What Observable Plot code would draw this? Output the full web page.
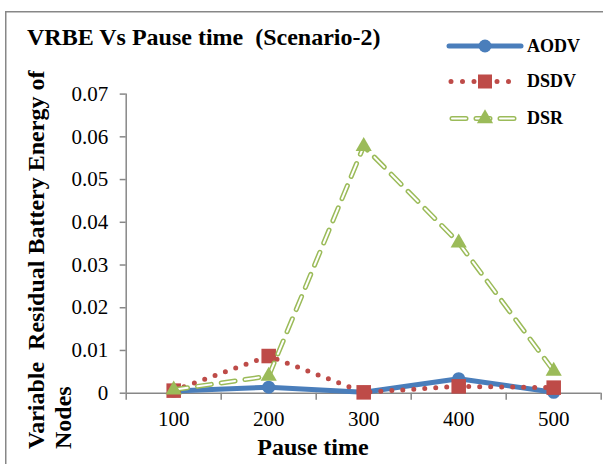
<!DOCTYPE html>
<html>
<head>
<meta charset="utf-8">
<script src="https://cdn.jsdelivr.net/npm/d3@7"></script>
<script src="https://cdn.jsdelivr.net/npm/@observablehq/plot@0.6"></script>
<style>
  html, body { margin: 0; padding: 0; background: #fff; overflow: hidden; }
  #chart { position: relative; width: 603px; height: 464px; }
</style>
</head>
<body>
<div id="chart"></div>
<script>
// ---- data ----
const categories = [100, 200, 300, 400, 500];
const aodv = [0.0005, 0.0014, 0.0002, 0.0034, 0.0002];
const dsdv = [0.0006, 0.0087, 0.0002, 0.0016, 0.0013];
const dsr  = [0.0008, 0.0040, 0.0578, 0.0352, 0.0052];
const yTicks = [0, 0.01, 0.02, 0.03, 0.04, 0.05, 0.06, 0.07];
const seriesNames = ["AODV", "DSDV", "DSR"];
const titleText = "VRBE Vs Pause time  (Scenario-2)";
const xTitle = "Pause time";
const yTitleLines = ["Variable  Residual Battery Energy of", "Nodes"];

// ---- styles ----
const blue = "#4a7ebb", red = "#be4b48", green = "#9bbb59", axisColor = "#878787";
const serif = "'Liberation Serif', 'Times New Roman', serif";

const step = categories[1] - categories[0];
const xDomain = [categories[0] - step / 2, categories[categories.length - 1] + step / 2];
const boundaries = d3.range(xDomain[0], xDomain[1] + 1, step);

const rows = (vals) => categories.map((c, i) => ({x: c, y: vals[i]}));
const A = rows(aodv), D = rows(dsdv), S = rows(dsr);

const plot = Plot.plot({
  width: 603,
  height: 464,
  marginLeft: 125.7,
  marginRight: 2.3,
  marginTop: 93.6,
  marginBottom: 71.3,
  style: {fontFamily: serif, fontSize: "21px", color: "black", background: "transparent", overflow: "visible"},
  x: {type: "linear", domain: xDomain},
  y: {domain: [yTicks[0], yTicks[yTicks.length - 1]]},
  marks: [
    Plot.axisY({ticks: yTicks, tickFormat: d => d === 0 ? "0" : d.toFixed(2), tickSize: 6, tickPadding: 12,
                fontSize: 21, stroke: axisColor, strokeWidth: 1.5, label: null}),
    Plot.axisX({ticks: boundaries, tickFormat: () => "", tickSize: 7, stroke: axisColor, strokeWidth: 1.5, label: null}),
    Plot.axisX({ticks: categories, tickFormat: d => String(d), tickSize: 0, tickPadding: 18, fontSize: 21, label: null}),
    Plot.ruleX([xDomain[0]], {stroke: axisColor, strokeWidth: 1.5}),
    Plot.ruleY([0], {stroke: axisColor, strokeWidth: 1.5}),
    // AODV
    Plot.line(A, {x: "x", y: "y", stroke: blue, strokeWidth: 5, strokeLinejoin: "round"}),
    Plot.dot(A, {x: "x", y: "y", r: 6.5, fill: blue, symbol: "circle"}),
    // DSDV
    Plot.line(D, {x: "x", y: "y", stroke: red, strokeWidth: 5, strokeDasharray: "0 11", strokeLinecap: "round"}),
    Plot.dot(D, {x: "x", y: "y", r: 8.2, fill: red, symbol: "square"}),
    // DSR
    Plot.line(S, {x: "x", y: "y", stroke: green, strokeWidth: 5, strokeDasharray: "14 10", strokeLinecap: "round"}),
    Plot.line(S, {x: "x", y: "y", stroke: "white", strokeWidth: 2, strokeDasharray: "14 10", strokeLinecap: "round"}),
    Plot.dot(S, {x: "x", y: "y", r: 6, fill: green, symbol: "triangle"})
  ]
});

document.getElementById("chart").appendChild(plot);
const svg = d3.select(plot);

// frame (left and top border of chart area)
svg.insert("path", ":first-child")
  .attr("d", "M5.75,470V11.75H610")
  .attr("fill", "none").attr("stroke", axisColor).attr("stroke-width", 1.5);

const txt = (sel) => sel.attr("font-family", serif).attr("font-weight", "bold").attr("fill", "black")
  .attr("text-anchor", "start").style("white-space", "pre");

// title
txt(svg.append("text")).attr("x", 27).attr("y", 45).attr("font-size", 24).text(titleText);

// x axis title
txt(svg.append("text")).attr("x", 313).attr("y", 455).attr("text-anchor", "middle").attr("font-size", 24).text(xTitle);

// y axis title (two lines, rotated)
const yt = txt(svg.append("text")).attr("transform", "translate(44,449) rotate(-90)").attr("font-size", 24);
yTitleLines.forEach((t, i) => yt.append("tspan").attr("x", 0).attr("y", i * 26.5).text(t));

// legend
const legendY = [46, 81.5, 118.5];
const textY = [52, 87, 124];
const lg = svg.append("g");
const x0 = 449, x1 = 521, xm = 485;
// AODV
lg.append("line").attr("x1", x0).attr("x2", x1).attr("y1", legendY[0]).attr("y2", legendY[0])
  .attr("stroke", blue).attr("stroke-width", 5).attr("stroke-linecap", "round");
lg.append("circle").attr("cx", xm).attr("cy", legendY[0]).attr("r", 6.5).attr("fill", blue);
// DSDV
lg.append("line").attr("x1", x0 + 2).attr("x2", x1 - 2).attr("y1", legendY[1]).attr("y2", legendY[1])
  .attr("stroke", red).attr("stroke-width", 5).attr("stroke-linecap", "round").attr("stroke-dasharray", "0 11.5");
lg.append("rect").attr("x", xm - 7).attr("y", legendY[1] - 7).attr("width", 14).attr("height", 14).attr("fill", red);
// DSR
lg.append("line").attr("x1", x0 + 3).attr("x2", x1 - 3).attr("y1", legendY[2]).attr("y2", legendY[2])
  .attr("stroke", green).attr("stroke-width", 5).attr("stroke-linecap", "round").attr("stroke-dasharray", "14 10");
lg.append("line").attr("x1", x0 + 3).attr("x2", x1 - 3).attr("y1", legendY[2]).attr("y2", legendY[2])
  .attr("stroke", "white").attr("stroke-width", 2).attr("stroke-linecap", "round").attr("stroke-dasharray", "14 10");
lg.append("path").attr("d", d3.symbol(d3.symbolTriangle, Math.PI * 36)())
  .attr("transform", `translate(${xm},${legendY[2]})`).attr("fill", green);
seriesNames.forEach((n, i) => txt(lg.append("text")).attr("x", 527).attr("y", textY[i]).attr("font-size", 18).text(n));
</script>
</body>
</html>
